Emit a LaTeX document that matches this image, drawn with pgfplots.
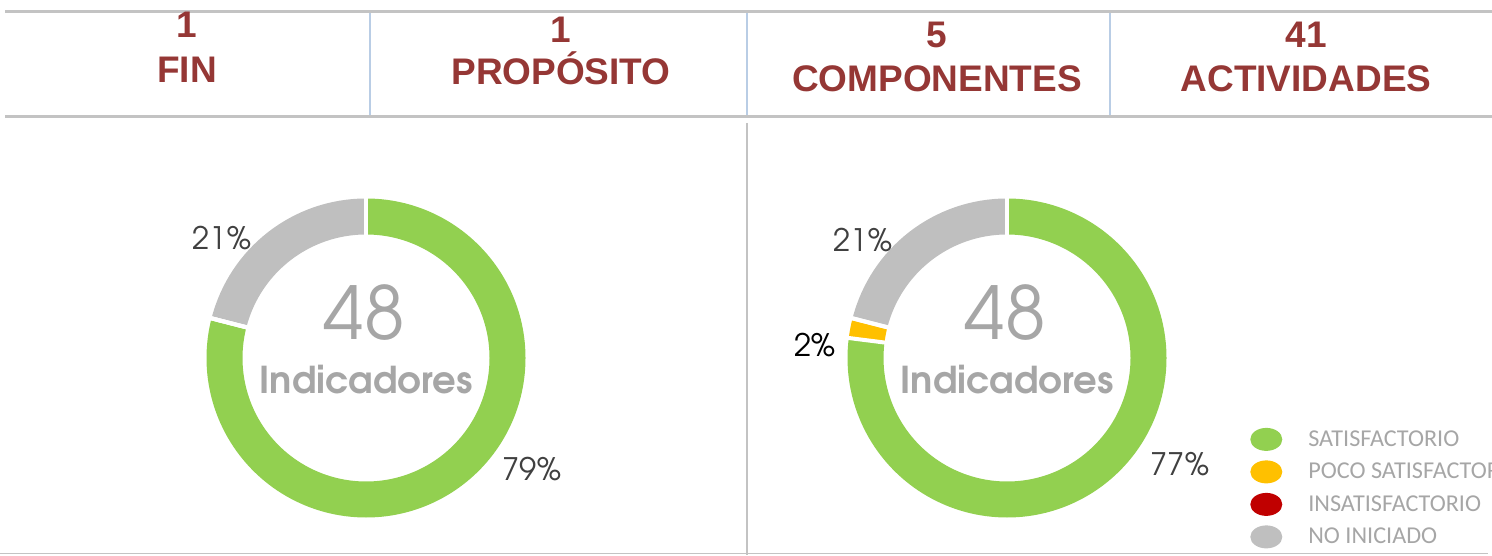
\documentclass[border=0pt]{standalone}
\usepackage{pgfplots}
\pgfplotsset{compat=1.18}
\usepackage{pgfplotstable}
\usepackage{fontspec}
\setmainfont{Liberation Sans}
\newfontfamily\adv{TeX Gyre Adventor}
\newfontfamily\advb{texgyreadventor-bold.otf}
\newfontfamily\legf{Carlito}
\definecolor{hdrred}{HTML}{953735}
\definecolor{linegray}{HTML}{C3C3C3}
\definecolor{sepblue}{HTML}{B9CDE5}
\definecolor{cSat}{HTML}{92D050}
\definecolor{cPoco}{HTML}{FFC000}
\definecolor{cInsat}{HTML}{C00000}
\definecolor{cNo}{HTML}{BFBFBF}
\definecolor{midgray}{HTML}{A6A6A6}
\definecolor{pctgray}{HTML}{404040}

\pgfplotstableread{
estado valor
Satisfactorio 79
Poco 0
Insatisfactorio 0
NoIniciado 21
}\tblFin

\pgfplotstableread{
estado valor
Satisfactorio 77
Poco 2
Insatisfactorio 0
NoIniciado 21
}\tblComp

\newcommand\computeangles[1]{%
  \pgfplotstablegetelem{0}{valor}\of{#1}\pgfmathsetmacro\aA{90-3.6*\pgfplotsretval}%
  \pgfplotstablegetelem{1}{valor}\of{#1}\pgfmathsetmacro\aB{\aA-3.6*\pgfplotsretval}%
  \pgfplotstablegetelem{2}{valor}\of{#1}\pgfmathsetmacro\aC{\aB-3.6*\pgfplotsretval}%
  \pgfplotstablegetelem{3}{valor}\of{#1}\pgfmathsetmacro\aD{\aC-3.6*\pgfplotsretval}%
}
\newcommand\seg[3]{\draw[line width=36pt,#3] (axis cs:0,0) ++(#1:141.5pt) arc[start angle=#1,end angle=#2,radius=141.5pt];}
\newcommand\gap[1]{\draw[white,line width=4pt] (axis cs:0,0) ++(#1:120pt) -- ++(#1:43pt);}
\newcommand\donut{%
  \seg{90}{\aA}{cSat}\seg{\aA}{\aB}{cPoco}\seg{\aB}{\aC}{cInsat}\seg{\aC}{\aD}{cNo}%
  \gap{90}\gap{\aA}\gap{\aB}\gap{\aC}%
  \node[anchor=base,inner sep=0pt,text=midgray,font=\adv\fontsize{73}{80}\selectfont] at (axis cs:-2,18) {48};
  \node[anchor=base,inner sep=0pt,text=midgray,font=\advb\fontsize{37}{40}\selectfont] at (axis cs:0,-35) {Indicadores};
}
\pgfplotsset{donutaxis/.style={width=340pt,height=340pt,scale only axis,
  xmin=-170,xmax=170,ymin=-170,ymax=170,hide axis,clip=false,anchor=center}}

\begin{document}
\begin{tikzpicture}
\path[use as bounding box] (0pt,0pt) rectangle (1492pt,555pt);
% header frame
\draw[linegray,line width=3pt] (5pt,543pt) -- (1492pt,543pt);
\draw[linegray,line width=3pt] (5pt,438pt) -- (1492pt,438pt);
\foreach \x in {370,747,1110} \draw[sepblue,line width=2pt] (\x pt,541.5pt) -- (\x pt,439.5pt);
\draw[linegray,line width=2pt] (747pt,432pt) -- (747pt,0pt);
\draw[linegray,line width=1.5pt] (0pt,1.5pt) -- (1488pt,1.5pt);
% header text
\tikzset{hdr/.style={anchor=base,inner sep=0pt,text=hdrred,font=\bfseries\fontsize{37}{40}\selectfont}}
\node[hdr] at (187pt,517pt) {1};
\node[hdr] at (187pt,472pt) {FIN};
\node[hdr] at (561pt,512pt) {1};
\node[hdr] at (561pt,470pt) {PROPÓSITO};
\node[hdr] at (937pt,507pt) {5};
\node[hdr] at (937pt,463pt) {COMPONENTES};
\node[hdr] at (1306pt,507pt) {41};
\node[hdr] at (1306pt,463pt) {ACTIVIDADES};
\tikzset{pct/.style={anchor=base,inner sep=0pt,text=pctgray,font=\adv\fontsize{31}{34}\selectfont}}
% donut 1
\computeangles{\tblFin}
\begin{axis}[donutaxis,at={(366pt,197pt)}]
\donut
\node[pct] at (axis cs:-144,108) {21\%};
\node[pct] at (axis cs:166,-122) {79\%};
\end{axis}
% donut 2
\computeangles{\tblComp}
\begin{axis}[donutaxis,at={(1007pt,197pt)},
  legend style={at={(axis description cs:1.215,0.309)},anchor=north west,
    draw=none,fill=none,inner sep=0pt,row sep=0pt,
    font=\legf\fontsize{24.2}{26}\selectfont,text=midgray,
    nodes={inner sep=0pt,minimum height=32.5pt},
    /tikz/every odd column/.append style={column sep=26pt}},
  legend cell align=left,
  legend image code/.code={\fill (16pt,0pt) ellipse [x radius=16pt,y radius=11.5pt];}]
\addlegendimage{fill=cSat,draw=none}
\addlegendentry{SATISFACTORIO}
\addlegendimage{fill=cPoco,draw=none}
\addlegendentry{POCO SATISFACTORIO}
\addlegendimage{fill=cInsat,draw=none}
\addlegendentry{INSATISFACTORIO}
\addlegendimage{fill=cNo,draw=none}
\addlegendentry{NO INICIADO}
\donut
\node[pct] at (axis cs:-144,106) {21\%};
\node[pct,text=black] at (axis cs:-192,1) {2\%};
\node[pct] at (axis cs:173,-117) {77\%};
\end{axis}
\end{tikzpicture}
\end{document}
